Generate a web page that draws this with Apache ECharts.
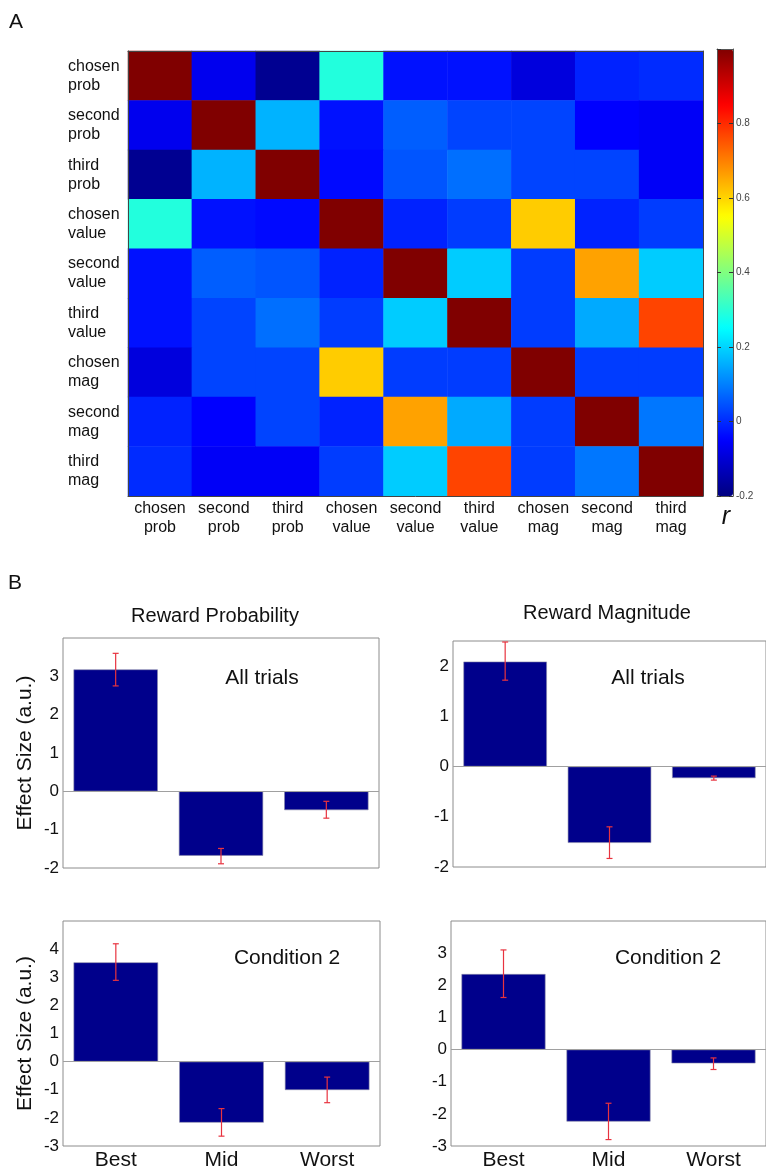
<!DOCTYPE html>
<html>
<head>
<meta charset="utf-8">
<script src="https://cdn.jsdelivr.net/npm/echarts@6.0.0/dist/echarts.min.js"></script>
<style>
  html, body { margin: 0; padding: 0; background: #fff; }
  #chart { width: 766px; height: 1171px; }
</style>
</head>
<body>
<div id="chart"></div>
<script>
// ---- data: panel A, correlation matrix ----
const corrLabels = ['chosen\nprob', 'second\nprob', 'third\nprob', 'chosen\nvalue', 'second\nvalue',
  'third\nvalue', 'chosen\nmag', 'second\nmag', 'third\nmag'];
const corrRows = [
  [ 1.00, -0.07, -0.18,  0.29, -0.03, -0.03, -0.09, -0.01,  0.00],
  [-0.07,  1.00,  0.16, -0.03,  0.06,  0.03,  0.03, -0.05, -0.06],
  [-0.18,  0.16,  1.00, -0.04,  0.05,  0.08,  0.03,  0.03, -0.06],
  [ 0.29, -0.03, -0.04,  1.00, -0.01,  0.02,  0.61, -0.01,  0.02],
  [-0.03,  0.06,  0.05, -0.01,  1.00,  0.19,  0.02,  0.66,  0.19],
  [-0.03,  0.03,  0.08,  0.02,  0.19,  1.00,  0.02,  0.15,  0.77],
  [-0.09,  0.03,  0.03,  0.61,  0.02,  0.02,  1.00,  0.02,  0.02],
  [-0.01, -0.05,  0.03, -0.01,  0.66,  0.15,  0.02,  1.00,  0.09],
  [ 0.00, -0.06, -0.06,  0.02,  0.19,  0.77,  0.02,  0.09,  1.00]
];
const colorbarMin = -0.2;
const colorbarMax = 1.0;

// ---- data: panel B, effect sizes with error bar ends ----
const barCategories = ['Best', 'Mid', 'Worst'];
const probAllMean = [3.18, -1.68, -0.49];
const probAllLow  = [2.75, -1.89, -0.70];
const probAllHigh = [3.60, -1.49, -0.26];
const magAllMean  = [2.09, -1.52, -0.23];
const magAllLow   = [1.72, -1.83, -0.27];
const magAllHigh  = [2.48, -1.20, -0.19];
const probC2Mean  = [3.53, -2.17, -1.01];
const probC2Low   = [2.89, -2.65, -1.46];
const probC2High  = [4.19, -1.67, -0.55];
const magC2Mean   = [2.35, -2.24, -0.43];
const magC2Low    = [1.62, -2.80, -0.62];
const magC2High   = [3.10, -1.67, -0.26];

const FONT = '"Liberation Sans", Arial, sans-serif';
const TXT = '#111';
const FRAME = '#8c8c8c';
const jet = ['#000080', '#0000ff', '#0080ff', '#00ffff', '#80ff80', '#ffff00', '#ff8000', '#ff0000', '#800000'];

const heatData = [];
corrRows.forEach((row, r) => row.forEach((v, c) => heatData.push([c, r, v])));

const grid = [
  { left: 128, top: 51, width: 575, height: 445 },
  { left: 717, top: 49, width: 16, height: 447 }
];
const xAxis = [];
const yAxis = [];
const series = [];

// heatmap axes (bottom/top, left/right), drawn above the cells so ticks show
const hmTick = { inside: true, alignWithLabel: true, length: 4, lineStyle: { color: '#333' } };
const hmLine = { show: true, lineStyle: { color: '#444' } };
xAxis.push({
  type: 'category', gridIndex: 0, data: corrLabels, position: 'bottom', z: 10,
  axisLine: hmLine, axisTick: hmTick,
  axisLabel: { interval: 0, fontSize: 16, lineHeight: 19, color: TXT, margin: 3, fontFamily: FONT }
});
xAxis.push({
  type: 'category', gridIndex: 0, data: corrLabels, position: 'top', z: 10,
  axisLine: hmLine, axisTick: hmTick, axisLabel: { show: false }
});
yAxis.push({
  type: 'category', gridIndex: 0, data: corrLabels, inverse: true, position: 'left', z: 10,
  axisLine: hmLine, axisTick: hmTick,
  axisLabel: { interval: 0, align: 'left', margin: 60, fontSize: 16, lineHeight: 19, color: TXT, fontFamily: FONT }
});
yAxis.push({
  type: 'category', gridIndex: 0, data: corrLabels, inverse: true, position: 'right', z: 10,
  axisLine: hmLine, axisTick: hmTick, axisLabel: { show: false }
});

// colorbar frame and ticks
['bottom', 'top'].forEach(pos => xAxis.push({
  type: 'value', gridIndex: 1, min: 0, max: 1, position: pos, z: 10,
  axisLine: { show: true, onZero: false, lineStyle: { color: '#555' } },
  axisTick: { show: false }, axisLabel: { show: false }, splitLine: { show: false }
}));
['right', 'left'].forEach(pos => yAxis.push({
  type: 'value', gridIndex: 1, min: colorbarMin, max: colorbarMax, interval: 0.2, position: pos, z: 10,
  axisLine: { show: true, onZero: false, lineStyle: { color: '#555' } },
  axisTick: { inside: true, length: 4, lineStyle: { color: '#333' } },
  splitLine: { show: false },
  axisLabel: pos === 'right' ? {
    fontSize: 10, color: '#444', margin: 3, fontFamily: FONT, showMaxLabel: false,
    formatter: v => String(Math.round(v * 10) / 10)
  } : { show: false }
}));

series.push({
  type: 'heatmap', xAxisIndex: 0, yAxisIndex: 0, data: heatData,
  emphasis: { disabled: true }, itemStyle: { borderWidth: 0 }
});

// ---- panel B ----
const panels = [
  { rect: { left: 63, top: 638, width: 316, height: 230 }, min: -2, max: 4, step: 1,
    mean: probAllMean, low: probAllLow, high: probAllHigh, yName: true, cats: false },
  { rect: { left: 453, top: 641, width: 315, height: 226 }, min: -2, max: 2.5, step: 0.5,
    mean: magAllMean, low: magAllLow, high: magAllHigh, yName: false, cats: false },
  { rect: { left: 63, top: 921, width: 317, height: 225 }, min: -3, max: 5, step: 1,
    mean: probC2Mean, low: probC2Low, high: probC2High, yName: true, cats: true },
  { rect: { left: 451, top: 921, width: 316, height: 225 }, min: -3, max: 4, step: 1,
    mean: magC2Mean, low: magC2Low, high: magC2High, yName: false, cats: true }
];

function renderErrorBar(params, api) {
  const i = api.value(0);
  const lo = api.coord([i, api.value(1)]);
  const hi = api.coord([i, api.value(2)]);
  const cap = 3;
  const st = () => ({ stroke: '#e8333f', lineWidth: 1.2 });
  return {
    type: 'group',
    children: [
      { type: 'line', shape: { x1: lo[0], y1: lo[1], x2: hi[0], y2: hi[1] }, style: st() },
      { type: 'line', shape: { x1: lo[0] - cap, y1: lo[1], x2: lo[0] + cap, y2: lo[1] }, style: st() },
      { type: 'line', shape: { x1: hi[0] - cap, y1: hi[1], x2: hi[0] + cap, y2: hi[1] }, style: st() }
    ]
  };
}

panels.forEach(p => {
  const g = grid.length;
  grid.push(Object.assign({ show: true, borderColor: FRAME, borderWidth: 1 }, p.rect));
  const xi = xAxis.length;
  const yi = yAxis.length;
  const tick = { inside: true, length: 4, lineStyle: { color: FRAME } };
  xAxis.push({
    type: 'category', gridIndex: g, data: barCategories, position: 'bottom',
    axisLine: { show: false, onZero: false }, axisTick: Object.assign({ alignWithLabel: true }, tick),
    axisLabel: p.cats ? { fontSize: 21, color: TXT, margin: 4, fontFamily: FONT } : { show: false }
  });
  xAxis.push({
    type: 'category', gridIndex: g, data: barCategories, position: 'top',
    axisLine: { show: false, onZero: false }, axisTick: Object.assign({ alignWithLabel: true }, tick),
    axisLabel: { show: false }
  });
  yAxis.push({
    type: 'value', gridIndex: g, min: p.min, max: p.max, interval: p.step, position: 'left',
    axisLine: { show: false, onZero: false }, axisTick: tick, splitLine: { show: false },
    axisLabel: {
      fontSize: 17, color: TXT, margin: 4, fontFamily: FONT, showMaxLabel: false,
      formatter: v => (Number.isInteger(v) ? String(v) : '')
    },
    name: p.yName ? 'Effect Size (a.u.)' : '', nameLocation: 'middle', nameGap: 27,
    nameTextStyle: { fontSize: 21, color: TXT, fontFamily: FONT }
  });
  yAxis.push({
    type: 'value', gridIndex: g, min: p.min, max: p.max, interval: p.step, position: 'right',
    axisLine: { show: false, onZero: false }, axisTick: tick, splitLine: { show: false },
    axisLabel: { show: false }
  });
  series.push({
    type: 'bar', xAxisIndex: xi, yAxisIndex: yi, data: p.mean, barWidth: '80%',
    itemStyle: { color: '#00008b', borderColor: '#8a8aa8', borderWidth: 0.6 },
    emphasis: { disabled: true },
    markLine: {
      silent: true, symbol: ['none', 'none'], label: { show: false },
      lineStyle: { color: '#a0a0a0', type: 'solid', width: 1 },
      data: [{ yAxis: 0 }]
    }
  });
  series.push({
    type: 'custom', xAxisIndex: xi, yAxisIndex: yi, z: 5,
    data: p.low.map((lo, i) => [i, lo, p.high[i]]),
    encode: { x: 0, y: [1, 2] },
    renderItem: renderErrorBar
  });
});

const txt = (text, x, y, size, align, extra) => ({
  type: 'text', x: x, y: y, silent: true,
  style: Object.assign({ text: text, font: size + 'px ' + FONT, fill: TXT, textAlign: align, textVerticalAlign: 'middle' }, extra || {})
});

const chart = echarts.init(document.getElementById('chart'));
chart.setOption({
  animation: false,
  backgroundColor: '#fff',
  textStyle: { fontFamily: FONT },
  grid: grid,
  xAxis: xAxis,
  yAxis: yAxis,
  visualMap: {
    type: 'continuous', seriesIndex: 0, dimension: 2,
    min: colorbarMin, max: colorbarMax, inRange: { color: jet },
    orient: 'vertical', left: 717, top: 49, itemWidth: 16, itemHeight: 447,
    calculable: false, hoverLink: false, padding: 0, text: null
  },
  graphic: [
    txt('A', 9, 22, 21, 'left'),
    txt('B', 8, 583, 21, 'left'),
    txt('r', 726, 517, 25, 'center', { font: 'italic 25px ' + FONT }),
    txt('Reward Probability', 215, 616, 20, 'center'),
    txt('Reward Magnitude', 607, 613, 20, 'center'),
    txt('All trials', 262, 678, 21, 'center'),
    txt('All trials', 648, 678, 21, 'center'),
    txt('Condition 2', 287, 958, 21, 'center'),
    txt('Condition 2', 668, 958, 21, 'center')
  ],
  series: series
});
</script>
</body>
</html>
